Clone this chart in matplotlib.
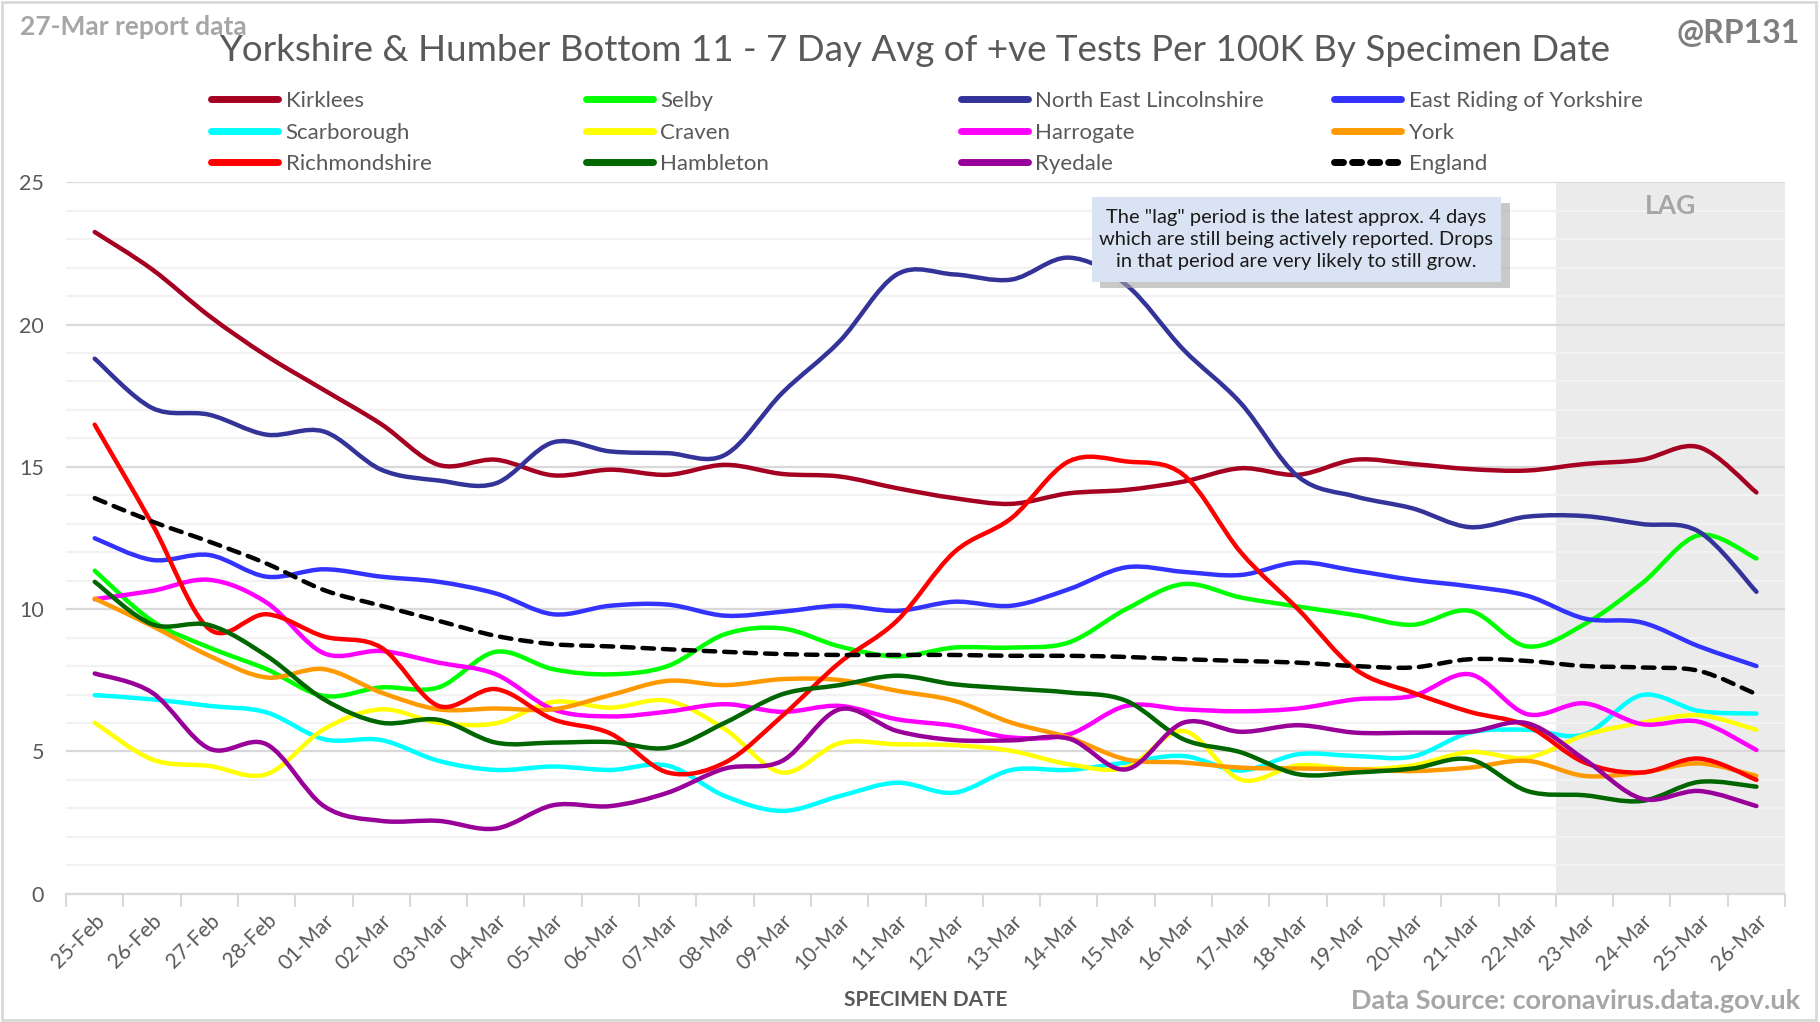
import numpy as np
import matplotlib.pyplot as plt
from matplotlib.path import Path
from matplotlib.patches import PathPatch, Rectangle
from matplotlib.lines import Line2D

plt.rcParams['font.family'] = ['Lato', 'DejaVu Sans']

dates = ['25-Feb', '26-Feb', '27-Feb', '28-Feb'] + ['%02d-Mar' % d for d in range(1, 27)]

kirklees = [23.25, 21.94, 20.3, 18.9, 17.7, 16.5, 15.07, 15.25, 14.7, 14.9, 14.72, 15.07, 14.75, 14.66, 14.25,
            13.9, 13.7, 14.07, 14.19, 14.48, 14.95, 14.72, 15.25, 15.1, 14.92, 14.87, 15.1, 15.25, 15.69, 14.1]
selby = [11.35, 9.59, 8.65, 7.89, 6.95, 7.25, 7.25, 8.5, 7.89, 7.71, 8.0, 9.12, 9.32, 8.69, 8.34,
         8.65, 8.65, 8.83, 10.0, 10.88, 10.41, 10.09, 9.79, 9.45, 9.94, 8.69, 9.47, 10.9, 12.6, 11.78]
ne_lincs = [18.8, 17.07, 16.83, 16.13, 16.24, 14.9, 14.52, 14.42, 15.86, 15.54, 15.48, 15.42, 17.6, 19.41, 21.76,
            21.76, 21.58, 22.35, 21.4, 19.12, 17.24, 14.66, 13.96, 13.54, 12.88, 13.25, 13.27, 12.99, 12.72, 10.61]
east_riding = [12.49, 11.73, 11.9, 11.14, 11.4, 11.14, 10.96, 10.55, 9.82, 10.12, 10.16, 9.77, 9.91, 10.12, 9.94,
               10.26, 10.12, 10.7, 11.47, 11.31, 11.2, 11.64, 11.35, 11.03, 10.8, 10.47, 9.67, 9.53, 8.69, 8.0]
scarborough = [6.98, 6.83, 6.6, 6.37, 5.43, 5.4, 4.67, 4.35, 4.47, 4.35, 4.5, 3.43, 2.91, 3.43, 3.9,
               3.55, 4.35, 4.35, 4.61, 4.84, 4.33, 4.9, 4.84, 4.82, 5.66, 5.76, 5.6, 6.98, 6.42, 6.33]
craven = [6.01, 4.72, 4.49, 4.2, 5.78, 6.48, 6.01, 5.99, 6.74, 6.54, 6.78, 5.78, 4.26, 5.29, 5.25,
          5.22, 5.02, 4.55, 4.43, 5.72, 4.01, 4.51, 4.37, 4.51, 4.98, 4.78, 5.57, 6.01, 6.27, 5.76]
harrogate = [10.35, 10.64, 11.03, 10.23, 8.45, 8.53, 8.12, 7.71, 6.48, 6.23, 6.4, 6.66, 6.39, 6.6, 6.13,
             5.9, 5.49, 5.6, 6.6, 6.48, 6.41, 6.51, 6.83, 6.95, 7.71, 6.31, 6.69, 5.96, 6.04, 5.05]
york = [10.37, 9.41, 8.36, 7.6, 7.89, 7.07, 6.48, 6.51, 6.48, 6.98, 7.48, 7.33, 7.54, 7.51, 7.13,
        6.78, 6.01, 5.49, 4.72, 4.61, 4.43, 4.4, 4.37, 4.31, 4.43, 4.67, 4.14, 4.26, 4.58, 4.14]
richmondshire = [16.48, 13.0, 9.3, 9.82, 9.04, 8.65, 6.6, 7.19, 6.13, 5.63, 4.26, 4.61, 6.25, 8.12, 9.59,
                 12.0, 13.2, 15.19, 15.19, 14.72, 12.0, 10.0, 7.89, 7.07, 6.39, 5.9, 4.61, 4.26, 4.75, 4.0]
hambleton = [10.96, 9.47, 9.44, 8.36, 6.83, 6.01, 6.11, 5.31, 5.31, 5.33, 5.13, 6.01, 7.01, 7.33, 7.66,
             7.36, 7.21, 7.07, 6.78, 5.43, 4.97, 4.2, 4.26, 4.4, 4.72, 3.61, 3.46, 3.26, 3.93, 3.76]
ryedale = [7.74, 7.07, 5.1, 5.25, 3.08, 2.56, 2.56, 2.29, 3.11, 3.08, 3.55, 4.4, 4.67, 6.48, 5.72,
           5.4, 5.39, 5.45, 4.37, 6.01, 5.69, 5.92, 5.66, 5.66, 5.69, 5.99, 4.72, 3.34, 3.61, 3.08]
england = [13.9, 13.08, 12.37, 11.6, 10.67, 10.12, 9.59, 9.06, 8.77, 8.69, 8.59, 8.5, 8.42, 8.39, 8.39,
           8.39, 8.36, 8.36, 8.32, 8.24, 8.18, 8.12, 8.0, 7.95, 8.24, 8.18, 8.0, 7.95, 7.83, 7.01]

series = [
    ('Kirklees', kirklees, '#A50021'),
    ('Selby', selby, '#00FF00'),
    ('North East Lincolnshire', ne_lincs, '#333399'),
    ('East Riding of Yorkshire', east_riding, '#3333FF'),
    ('Scarborough', scarborough, '#00FFFF'),
    ('Craven', craven, '#FFFF00'),
    ('Harrogate', harrogate, '#FF00FF'),
    ('York', york, '#FF9900'),
    ('Richmondshire', richmondshire, '#FF0000'),
    ('Hambleton', hambleton, '#006600'),
    ('Ryedale', ryedale, '#990099'),
]

grey = '#595959'


def smooth_path(y):
    # excel style smoothed line: cubic bezier through every point
    pts = np.column_stack([np.arange(len(y)), y])
    verts = [pts[0]]
    codes = [Path.MOVETO]
    n = len(pts)
    for i in range(n - 1):
        p0 = pts[max(i - 1, 0)]
        p1 = pts[i]
        p2 = pts[i + 1]
        p3 = pts[min(i + 2, n - 1)]
        verts += [p1 + (p2 - p0) / 6, p2 - (p3 - p1) / 6, p2]
        codes += [Path.CURVE4] * 3
    return Path(verts, codes)


fig = plt.figure(figsize=(18.2, 10.22), dpi=100)
ax = fig.add_axes([0.0363, 0.1255, 0.9445, 0.6962])

# lag shading
ax.axvspan(25.5, 29.5, color='#EBEBEB', zorder=0, lw=0)
ax.text(27.5, 24.15, 'LAG', ha='center', va='center', fontsize=19, fontweight='bold', color='#A6A6A6', zorder=1)

handles = {}
for name, vals, col in series:
    ax.add_patch(PathPatch(smooth_path(vals), fill=False, edgecolor=col, lw=3.2,
                           capstyle='round', joinstyle='round', zorder=3))
    handles[name] = Line2D([], [], color=col, lw=5, solid_capstyle='round')

ax.add_patch(PathPatch(smooth_path(england), fill=False, edgecolor='black', lw=3.2,
                       linestyle=(0, (2.6, 2.0)), capstyle='round', zorder=4))
handles['England'] = Line2D([], [], color='black', lw=5, linestyle=(0, (1.3, 1.3)), dash_capstyle='round')

ax.set_xlim(-0.5, 29.5)
ax.set_ylim(0, 25)
ax.set_yticks(range(0, 26, 5))
ax.set_yticks(range(0, 26), minor=True)
ax.grid(axis='y', which='major', color='#D9D9D9', lw=1.6, zorder=0)
ax.grid(axis='y', which='minor', color='#F2F2F2', lw=1.6, zorder=0)
ax.set_axisbelow(True)

ax.set_xticks(range(len(dates)))
ax.set_xticklabels(dates, rotation=45, ha='right', rotation_mode='anchor', fontsize=15, color=grey)
ax.set_xticks(np.arange(-0.5, 30, 1), minor=True)
ax.tick_params(axis='x', which='major', length=0, pad=12)
ax.tick_params(axis='x', which='minor', length=9, color='#D9D9D9', width=1.5)
ax.tick_params(axis='y', which='both', length=0, labelsize=15.5, labelcolor=grey, pad=16)
for s in ['top', 'right', 'left']:
    ax.spines[s].set_visible(False)
ax.spines['bottom'].set_color('#D9D9D9')
ax.spines['bottom'].set_linewidth(1.6)

ax.set_xlabel('SPECIMEN DATE', fontsize=15, fontweight='bold', color=grey, labelpad=12)

# note box
ax.add_patch(Rectangle((17.55, 21.3), 7.15, 2.97, facecolor='#A6A6A6', alpha=0.6, lw=0, zorder=5))
ax.add_patch(Rectangle((17.4, 21.5), 7.15, 2.97, facecolor='#DAE3F3', lw=0, zorder=6))
ax.text(20.97, 22.98, 'The "lag" period is the latest approx. 4 days\nwhich are still being actively reported. Drops\n'
        'in that period are very likely to still grow.', ha='center', va='center', fontsize=14.5,
        color='#1A1A1A', linespacing=1.35, zorder=7)

# legend, four columns
order = [['Kirklees', 'Scarborough', 'Richmondshire'],
         ['Selby', 'Craven', 'Hambleton'],
         ['North East Lincolnshire', 'Harrogate', 'Ryedale'],
         ['East Riding of Yorkshire', 'York', 'England']]
col_x = [0.116, 0.322, 0.528, 0.733]
for cx, names in zip(col_x, order):
    fig.legend([handles[n] for n in names], names, loc='upper left', bbox_to_anchor=(cx, 0.911),
               frameon=False, ncol=1, fontsize=16, handlelength=3.0, handletextpad=0.35,
               labelspacing=0.52, borderpad=0, borderaxespad=0, labelcolor=grey)

fig.text(0.5025, 0.951, 'Yorkshire & Humber Bottom 11 - 7 Day Avg of +ve Tests Per 100K By Specimen Date',
         ha='center', va='center', fontsize=26.5, color=grey)
fig.text(0.011, 0.974, '27-Mar report data', ha='left', va='center', fontsize=19, fontweight='bold', color='#A6A6A6')
fig.text(0.989, 0.967, '@RP131', ha='right', va='center', fontsize=23, fontweight='bold', color='#7F7F7F')
fig.text(0.989, 0.021, 'Data Source: coronavirus.data.gov.uk', ha='right', va='center', fontsize=19.5,
         fontweight='bold', color='#A6A6A6')

fig.patches.append(Rectangle((0.001, 0.002), 0.997, 0.996, transform=fig.transFigure, fill=False,
                             edgecolor='#D9D9D9', lw=2))

fig.savefig('out.png', dpi=100, facecolor='white')
